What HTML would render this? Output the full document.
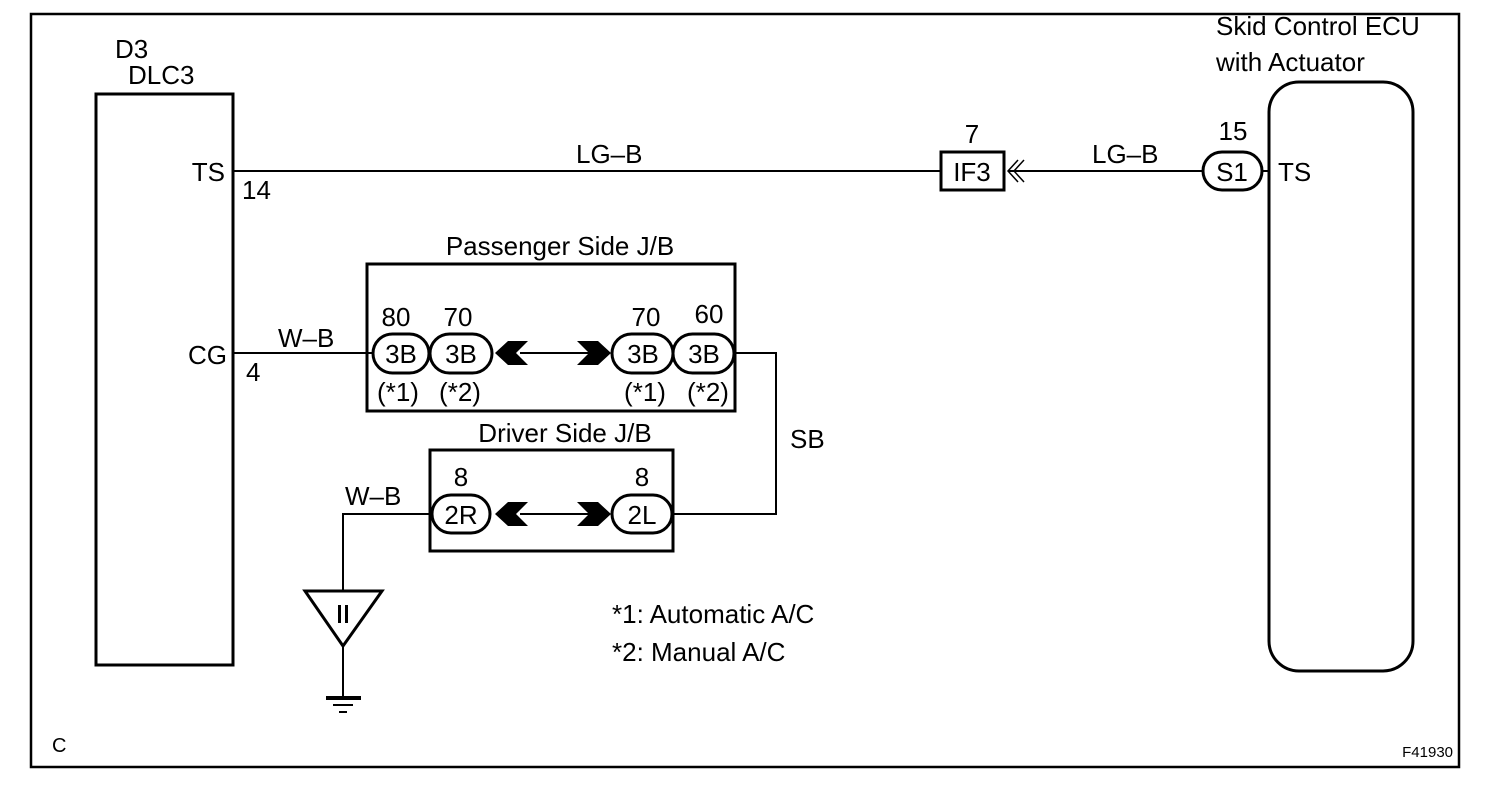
<!DOCTYPE html>
<html><head><style>
html,body{margin:0;padding:0;background:#fff;}
svg{display:block;}
text{font-family:"Liberation Sans",Arial,sans-serif;font-size:26px;fill:#000;}
.m{text-anchor:middle;}
.e{text-anchor:end;}
</style></head><body>
<svg width="1504" height="788" viewBox="0 0 1504 788" xmlns="http://www.w3.org/2000/svg">
<g fill="none" stroke="#000">
<rect x="31" y="14" width="1428" height="753" stroke-width="2.5"/>
<rect x="96" y="94" width="137" height="571" stroke-width="3"/>
<rect x="1269" y="82" width="144" height="589" rx="30" stroke-width="3"/>
<line x1="233" y1="171" x2="940" y2="171" stroke-width="2"/>
<rect x="941" y="152" width="63" height="38" stroke-width="3"/>
<polyline points="1018,160 1008,171 1018,182" stroke-width="1.5"/>
<polyline points="1024,160 1014,171 1024,182" stroke-width="1.5"/>
<line x1="1008" y1="171" x2="1203" y2="171" stroke-width="2"/>
<rect x="1203" y="152" width="59" height="38" rx="19" stroke-width="3"/>
<line x1="1262" y1="171" x2="1269" y2="171" stroke-width="2"/>
<rect x="367" y="264" width="368" height="147" stroke-width="3"/>
<line x1="233" y1="353" x2="373" y2="353" stroke-width="2"/>
<rect x="373" y="334" width="56" height="39" rx="19.5" stroke-width="3"/>
<rect x="430" y="334" width="62" height="39" rx="19.5" stroke-width="3"/>
<rect x="612" y="334" width="61" height="39" rx="19.5" stroke-width="3"/>
<rect x="673" y="334" width="61" height="39" rx="19.5" stroke-width="3"/>
<line x1="520" y1="353" x2="590" y2="353" stroke-width="2"/>
<polyline points="734,353 776,353 776,514 672,514" stroke-width="2"/>
<rect x="430" y="450" width="243" height="101" stroke-width="3"/>
<rect x="432" y="495" width="58" height="38" rx="19" stroke-width="3"/>
<rect x="612" y="495" width="60" height="38" rx="19" stroke-width="3"/>
<line x1="520" y1="514" x2="590" y2="514" stroke-width="2"/>
<polyline points="432,514 343,514 343,592" stroke-width="2"/>
<polygon points="305,591 382,591 343,646" stroke-width="3"/>
<line x1="343" y1="646" x2="343" y2="697" stroke-width="2"/>
</g>
<g fill="#000">
<polygon points="495,353 508,341 528,341 516,353 528,365 508,365"/>
<polygon points="577,341 598,341 611,353 598,365 577,365 589,353"/>
<polygon points="495,514 508,502 528,502 516,514 528,526 508,526"/>
<polygon points="577,502 598,502 611,514 598,526 577,526 589,514"/>
<rect x="338" y="605" width="3" height="18"/><rect x="345" y="605" width="3" height="18"/>
<rect x="326" y="696" width="35" height="4"/>
<rect x="333" y="704" width="20" height="2"/>
<rect x="339" y="711" width="8" height="2"/>
</g>
<text x="115" y="58">D3</text>
<text x="128" y="84">DLC3</text>
<text class="e" x="225" y="181">TS</text>
<text x="242" y="199">14</text>
<text class="e" x="227" y="364">CG</text>
<text x="246" y="381">4</text>
<text x="278" y="347">W–B</text>
<text x="576" y="163">LG–B</text>
<text class="m" x="972" y="143">7</text>
<text class="m" x="972" y="181">IF3</text>
<text x="1092" y="163">LG–B</text>
<text class="m" x="1233" y="140">15</text>
<text class="m" x="1232" y="181">S1</text>
<text x="1278" y="181">TS</text>
<text x="1216" y="35">Skid Control ECU</text>
<text x="1216" y="71">with Actuator</text>
<text class="m" x="560" y="255">Passenger Side J/B</text>
<text class="m" x="396" y="326">80</text><text class="m" x="458" y="326">70</text>
<text class="m" x="646" y="326">70</text><text class="m" x="709" y="323">60</text>
<text class="m" x="401" y="363">3B</text><text class="m" x="461" y="363">3B</text>
<text class="m" x="643" y="363">3B</text><text class="m" x="704" y="363">3B</text>
<text class="m" x="398" y="401">(*1)</text><text class="m" x="460" y="401">(*2)</text>
<text class="m" x="645" y="401">(*1)</text><text class="m" x="708" y="401">(*2)</text>
<text class="m" x="565" y="442">Driver Side J/B</text>
<text x="790" y="448">SB</text>
<text class="m" x="461" y="486">8</text><text class="m" x="642" y="486">8</text>
<text x="345" y="505">W–B</text>
<text class="m" x="461" y="524">2R</text><text class="m" x="642" y="524">2L</text>
<text x="612" y="623">*1: Automatic A/C</text>
<text x="612" y="661">*2: Manual A/C</text>
<text x="52" y="752" style="font-size:20px">C</text>
<text class="e" x="1453" y="757" style="font-size:15px">F41930</text>
</svg>
</body></html>
